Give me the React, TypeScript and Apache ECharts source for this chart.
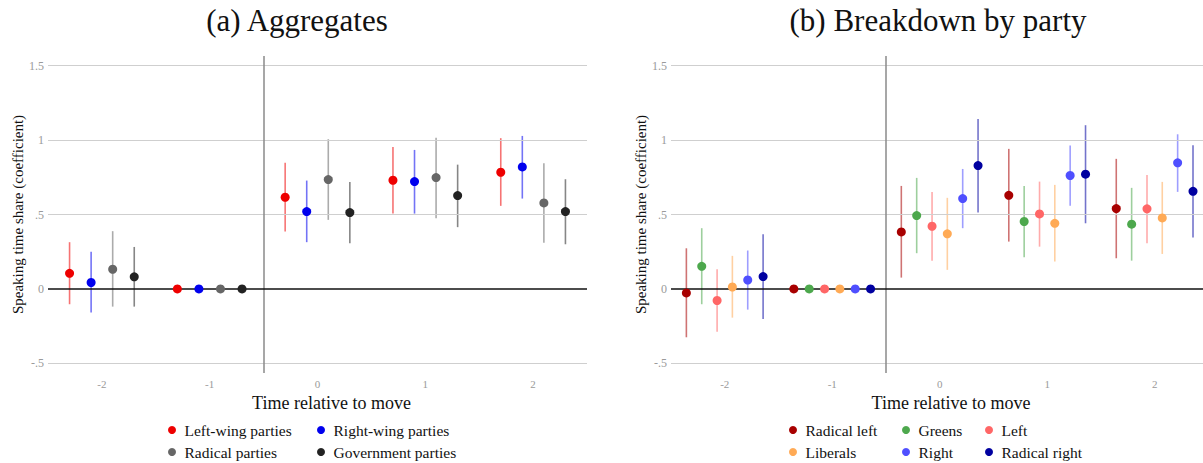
import React, { useEffect, useRef } from 'react';
import * as echarts from 'echarts';

// ---------- data ----------
const timePoints = [-2, -1, 0, 1, 2];
const xTickValues = [-2, -1, 0, 1, 2];
const yTickValues = [-0.5, 0, 0.5, 1, 1.5];

// Panel (a): aggregates
const aggNames = ['Left-wing parties', 'Right-wing parties', 'Radical parties', 'Government parties'];
const aggColors = ['#EE0000', '#0000EE', '#666666', '#222222'];
const aggOffsets = [-0.3, -0.1, 0.1, 0.3];

const leftWingEst = [0.105, 0, 0.616, 0.73, 0.784];
const leftWingLow = [-0.103, null, 0.385, 0.506, 0.558];
const leftWingHigh = [0.314, null, 0.847, 0.954, 1.013];

const rightWingEst = [0.043, 0, 0.52, 0.721, 0.82];
const rightWingLow = [-0.159, null, 0.314, 0.506, 0.607];
const rightWingHigh = [0.249, null, 0.728, 0.934, 1.028];

const radicalEst = [0.132, 0, 0.735, 0.748, 0.578];
const radicalLow = [-0.119, null, 0.464, 0.475, 0.311];
const radicalHigh = [0.388, null, 1.006, 1.015, 0.845];

const governmentEst = [0.081, 0, 0.513, 0.627, 0.52];
const governmentLow = [-0.119, null, 0.307, 0.415, 0.3];
const governmentHigh = [0.282, null, 0.719, 0.835, 0.737];

// Panel (b): by party
const partyNames = ['Radical left', 'Greens', 'Left', 'Liberals', 'Right', 'Radical right'];
const partyColors = ['#A80000', '#4DA84D', '#FF6666', '#FFAA55', '#4F4FFF', '#0000A0'];
const partyOffsets = [-0.357, -0.214, -0.071, 0.071, 0.214, 0.357];

const radLeftEst = [-0.027, 0, 0.383, 0.629, 0.54];
const radLeftLow = [-0.325, null, 0.076, 0.318, 0.206];
const radLeftHigh = [0.273, null, 0.692, 0.941, 0.874];

const greensEst = [0.152, 0, 0.493, 0.453, 0.435];
const greensLow = [-0.103, null, 0.24, 0.213, 0.19];
const greensHigh = [0.408, null, 0.746, 0.692, 0.679];

const leftEst = [-0.078, 0, 0.421, 0.504, 0.538];
const leftLow = [-0.287, null, 0.19, 0.284, 0.307];
const leftHigh = [0.132, null, 0.652, 0.721, 0.766];

const liberalsEst = [0.013, 0, 0.37, 0.441, 0.477];
const liberalsLow = [-0.193, null, 0.128, 0.184, 0.235];
const liberalsHigh = [0.222, null, 0.612, 0.699, 0.719];

const rightEst = [0.06, 0, 0.607, 0.762, 0.847];
const rightLow = [-0.139, null, 0.408, 0.558, 0.652];
const rightHigh = [0.258, null, 0.806, 0.963, 1.039];

const radRightEst = [0.083, 0, 0.829, 0.771, 0.656];
const radRightLow = [-0.202, null, 0.513, 0.441, 0.345];
const radRightHigh = [0.367, null, 1.142, 1.1, 0.966];

const aggData = [
  [leftWingEst, leftWingLow, leftWingHigh],
  [rightWingEst, rightWingLow, rightWingHigh],
  [radicalEst, radicalLow, radicalHigh],
  [governmentEst, governmentLow, governmentHigh],
];
const partyData = [
  [radLeftEst, radLeftLow, radLeftHigh],
  [greensEst, greensLow, greensHigh],
  [leftEst, leftLow, leftHigh],
  [liberalsEst, liberalsLow, liberalsHigh],
  [rightEst, rightLow, rightHigh],
  [radRightEst, radRightLow, radRightHigh],
];

// ---------- styling ----------
const SERIF = '"Liberation Serif", "Times New Roman", serif';
const TICK_COLOR = '#9a9a9a';
const GRID_COLOR = '#cfcfcf';

function buildSeries(names: string[], colors: string[], offsets: number[], data: any[], gridIdx: number) {
  const out: any[] = [];
  names.forEach((name, i) => {
    const [est, low, high] = data[i];
    const bars = timePoints
      .map((t, k) => (low[k] == null ? null : [t + offsets[i], low[k], high[k]]))
      .filter((d) => d != null);
    const color = colors[i];
    out.push({
      type: 'custom',
      name: name + ' CI',
      xAxisIndex: gridIdx,
      yAxisIndex: gridIdx,
      z: 3,
      silent: true,
      data: bars,
      encode: { x: 0, y: [1, 2] },
      renderItem: (params: any, api: any) => {
        const p1 = api.coord([api.value(0), api.value(1)]);
        const p2 = api.coord([api.value(0), api.value(2)]);
        return {
          type: 'line',
          shape: { x1: p1[0], y1: p1[1], x2: p2[0], y2: p2[1] },
          style: { stroke: color, lineWidth: 1.6, opacity: 0.55 },
        };
      },
    });
    out.push({
      type: 'scatter',
      name,
      xAxisIndex: gridIdx,
      yAxisIndex: gridIdx,
      z: 5,
      symbol: 'circle',
      symbolSize: 9,
      itemStyle: { color, opacity: 1 },
      data: timePoints.map((t, k) => [t + offsets[i], est[k]]),
    });
  });
  return out;
}

function refLines(gridIdx: number) {
  return {
    type: 'scatter',
    xAxisIndex: gridIdx,
    yAxisIndex: gridIdx,
    data: [],
    z: 1,
    silent: true,
    markLine: {
      silent: true,
      symbol: 'none',
      animation: false,
      label: { show: false },
      data: [
        ...yTickValues
          .filter((v) => v !== 0)
          .map((v) => ({ yAxis: v, lineStyle: { color: GRID_COLOR, width: 1.2, type: 'solid' } })),
        { xAxis: -0.5, lineStyle: { color: '#8a8a8a', width: 1.5, type: 'solid' } },
        { yAxis: 0, lineStyle: { color: '#111111', width: 1.6, type: 'solid' } },
      ],
    },
  };
}

function yFmt(v: number) {
  if (v === 0) return '0';
  return String(v).replace(/^(-?)0\./, '$1.');
}

function xAxis(gridIdx: number, max: number) {
  return {
    type: 'value',
    gridIndex: gridIdx,
    min: -2.5,
    max,
    axisLine: { show: false },
    axisTick: { show: false, customValues: xTickValues },
    splitLine: { show: false },
    axisLabel: {
      customValues: xTickValues,
      color: TICK_COLOR,
      fontSize: 11,
      fontFamily: SERIF,
      margin: 5,
    },
    name: 'Time relative to move',
    nameLocation: 'middle',
    nameGap: 14,
    nameTextStyle: { fontSize: 18, color: '#111', fontFamily: SERIF, padding: [0, 0, 0, 28] },
  };
}

function yAxis(gridIdx: number) {
  return {
    type: 'value',
    gridIndex: gridIdx,
    min: -0.565,
    max: 1.565,
    axisLine: { show: false },
    axisTick: { show: false, customValues: yTickValues },
    splitLine: { show: false },
    axisLabel: {
      customValues: yTickValues,
      color: TICK_COLOR,
      fontSize: 12,
      fontFamily: SERIF,
      margin: 4,
      formatter: yFmt,
    },
    name: 'Speaking time share (coefficient)',
    nameLocation: 'middle',
    nameGap: 22,
    nameTextStyle: { fontSize: 15, color: '#111', fontFamily: SERIF },
  };
}

function legendItem(name: string, left: number, top: number) {
  return {
    data: [name],
    left,
    top,
    padding: 0,
    icon: 'circle',
    itemWidth: 15,
    itemHeight: 8,
    selectedMode: false,
    textStyle: { fontSize: 15.5, color: '#111', fontFamily: SERIF },
  };
}

export default function App() {
  const ref = useRef<HTMLDivElement>(null);
  useEffect(() => {
    if (!ref.current) return;
    const chart = echarts.init(ref.current, null, { renderer: 'svg' });
    const row1 = 422;
    const row2 = 444;
    chart.setOption({
      animation: false,
      backgroundColor: '#ffffff',
      grid: [
        { left: 48, right: 616, top: 56, bottom: 90 },
        { left: 671, right: 0, top: 56, bottom: 90 },
      ],
      xAxis: [xAxis(0, 2.5), xAxis(1, 2.45)],
      yAxis: [yAxis(0), yAxis(1)],
      legend: [
        legendItem(aggNames[0], 168, row1),
        legendItem(aggNames[1], 317, row1),
        legendItem(aggNames[2], 168, row2),
        legendItem(aggNames[3], 317, row2),
        legendItem(partyNames[0], 789, row1),
        legendItem(partyNames[1], 902, row1),
        legendItem(partyNames[2], 985, row1),
        legendItem(partyNames[3], 789, row2),
        legendItem(partyNames[4], 902, row2),
        legendItem(partyNames[5], 985, row2),
      ],
      graphic: [
        {
          type: 'text',
          x: 297,
          y: 20,
          style: {
            text: '(a) Aggregates',
            textAlign: 'center',
            textVerticalAlign: 'middle',
            fontSize: 31,
            fontFamily: SERIF,
            fill: '#111',
          },
        },
        {
          type: 'text',
          x: 938,
          y: 20,
          style: {
            text: '(b) Breakdown by party',
            textAlign: 'center',
            textVerticalAlign: 'middle',
            fontSize: 31,
            fontFamily: SERIF,
            fill: '#111',
          },
        },
      ],
      series: [
        refLines(0),
        refLines(1),
        ...buildSeries(aggNames, aggColors, aggOffsets, aggData, 0),
        ...buildSeries(partyNames, partyColors, partyOffsets, partyData, 1),
      ],
    });
    return () => chart.dispose();
  }, []);
  return (
    <div
      ref={ref}
      style={{ position: 'fixed', left: 0, top: 0, width: 1203, height: 463, background: '#fff' }}
    />
  );
}
